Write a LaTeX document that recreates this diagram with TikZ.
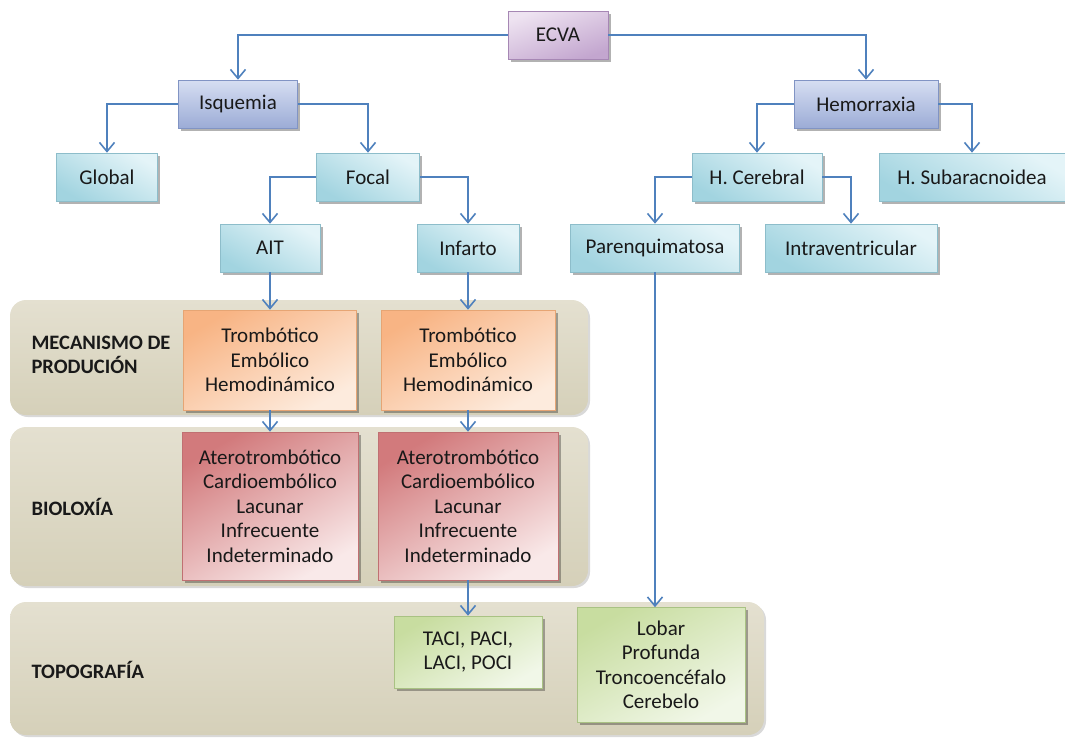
\documentclass[tikz,border=0pt]{standalone}
\usepackage{fontspec}
\setmainfont{Carlito}
\usepackage{xcolor}
\usetikzlibrary{arrows.meta, shadows}

\definecolor{linkblue}{HTML}{4F81BD}
\definecolor{cyanL}{HTML}{E4F4F8}
\definecolor{cyanD}{HTML}{A2D4E0}
\definecolor{cyanB}{HTML}{8DBDCA}
\definecolor{blueL}{HTML}{D6DEF2}
\definecolor{blueD}{HTML}{9CACD6}
\definecolor{blueB}{HTML}{8194C4}
\definecolor{purpL}{HTML}{EEE3F1}
\definecolor{purpD}{HTML}{C3A6CF}
\definecolor{purpB}{HTML}{A687B4}
\definecolor{orgD}{HTML}{F8B484}
\definecolor{orgL}{HTML}{FDEBDD}
\definecolor{orgB}{HTML}{E6A574}
\definecolor{redD}{HTML}{D27A7C}
\definecolor{redL}{HTML}{F9E9E9}
\definecolor{redB}{HTML}{C07072}
\definecolor{grnD}{HTML}{C8DDA0}
\definecolor{grnL}{HTML}{F1F7E8}
\definecolor{grnB}{HTML}{A9C283}
\definecolor{bandL}{HTML}{E4E0D0}
\definecolor{bandD}{HTML}{D5D0B9}

\begin{document}
\begin{tikzpicture}[x=1pt, y=-1pt,
    box/.style={draw=#1, line width=0.6pt, align=center, inner sep=2pt,
        text=black!90, font=\fontsize{21}{24.5}\selectfont,
        drop shadow={shadow xshift=2.5pt, shadow yshift=-2.5pt, fill=black, opacity=0.3}},
    cyanbox/.style={box=cyanB, top color=cyanL, bottom color=cyanD, shading angle=-30, minimum height=48pt},
    bluebox/.style={box=blueB, top color=blueL, bottom color=blueD, minimum height=48pt},
    purpbox/.style={box=purpB, top color=purpL, bottom color=purpD, shading angle=20, minimum height=48pt},
    orgbox/.style={box=orgB, top color=orgD, bottom color=orgL, shading angle=30, minimum height=100pt},
    redbox/.style={box=redB, top color=redD, bottom color=redL, shading angle=30, minimum height=148pt},
    grnbox/.style={box=grnB, top color=grnD, bottom color=grnL, shading angle=30},
    band/.style={rounded corners=16pt, top color=bandL, bottom color=bandD,
        drop shadow={shadow xshift=2pt, shadow yshift=-2pt, fill=black, opacity=0.15}},
    lbl/.style={anchor=west, align=left, text=black!90, font=\bfseries\fontsize{20.5}{24}\selectfont},
    arr/.style={draw=linkblue, line width=1.6pt, -{Straight Barb[length=9pt, width=15pt]}}
]

    \useasboundingbox (0,0) rectangle (1065,737);

    % Bands
    \path[band] (10,300) rectangle (588,415);
    \path[band] (10,427) rectangle (588,586);
    \path[band] (10,602) rectangle (764,735);

    \node[lbl] (lmec) at (28,355) {MECANISMO DE\\PRODUCIÓN};
    \node[lbl] (lbio) at (28,507) {BIOLOXÍA};
    \node[lbl] (ltop) at (28,670) {TOPOGRAFÍA};

    % Tree
    \node[purpbox, minimum width=100pt] (ecva) at (558,35) {ECVA};
    \node[bluebox, minimum width=119pt] (isq) at (238,104) {Isquemia};
    \node[bluebox, minimum width=144pt] (hem) at (866,104) {Hemorraxia};
    \node[cyanbox, minimum width=101pt] (glob) at (107,177) {Global};
    \node[cyanbox, minimum width=103pt] (foc) at (368,177) {Focal};
    \node[cyanbox, minimum width=130pt] (hcer) at (757,177) {H. Cerebral};
    \node[cyanbox, minimum width=186pt] (hsub) at (972,177) {H. Subaracnoidea};
    \node[cyanbox, minimum width=100pt] (ait) at (270,248) {AIT};
    \node[cyanbox, minimum width=102pt] (inf) at (468,248) {Infarto};
    \node[cyanbox, minimum width=169pt] (parq) at (655,248) {Parenquimatosa};
    \node[cyanbox, minimum width=172pt] (intv) at (851,248) {Intraventricular};

    % Mecanismo
    \node[orgbox, minimum width=173pt] (mecA) at (270,360) {Trombótico\\Embólico\\Hemodinámico};
    \node[orgbox, minimum width=174pt] (mecI) at (468,360) {Trombótico\\Embólico\\Hemodinámico};

    % Bioloxia
    \node[redbox, minimum width=176pt] (bioA) at (270,506) {Aterotrombótico\\Cardioembólico\\Lacunar\\Infrecuente\\Indeterminado};
    \node[redbox, minimum width=180pt] (bioI) at (468,506) {Aterotrombótico\\Cardioembólico\\Lacunar\\Infrecuente\\Indeterminado};

    % Topografia
    \node[grnbox, minimum width=148pt, minimum height=72pt] (topI) at (468,652) {TACI, PACI,\\LACI, POCI};
    \node[grnbox, minimum width=168pt, minimum height=115pt] (topH) at (661,665) {Lobar\\Profunda\\Troncoencéfalo\\Cerebelo};

    % Connectors
    \draw[arr] (ecva.west) -| (isq.north);
    \draw[arr] (ecva.east) -| (hem.north);
    \draw[arr] (isq.west) -| (glob.north);
    \draw[arr] (isq.east) -| (foc.north);
    \draw[arr] (foc.west) -| (ait.north);
    \draw[arr] (foc.east) -| (inf.north);
    \draw[arr] (hem.west) -| (hcer.north);
    \draw[arr] (hem.east) -| (hsub.north);
    \draw[arr] (hcer.west) -| (parq.north);
    \draw[arr] (hcer.east) -| (intv.north);
    \draw[arr] (ait.south) -- (mecA.north);
    \draw[arr] (inf.south) -- (mecI.north);
    \draw[arr] (mecA.south) -- (bioA.north);
    \draw[arr] (mecI.south) -- (bioI.north);
    \draw[arr] (bioI.south) -- (topI.north);
    \draw[arr] (parq.south) -- (parq.south |- topH.north);

\end{tikzpicture}
\end{document}
